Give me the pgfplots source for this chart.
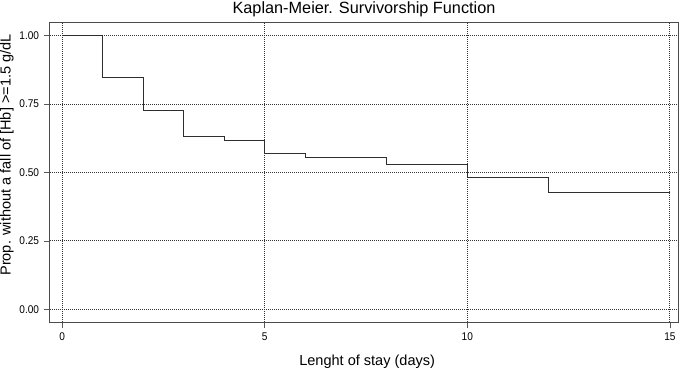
\documentclass[border=0pt]{standalone}
\usepackage{pgfplots}
\pgfplotsset{compat=1.18}
\usepackage{fontspec}
\setmainfont{Liberation Sans}
\newfontfamily\tickfont{Liberation Sans}[FakeStretch=0.9]
\begin{document}
\begin{tikzpicture}
\begin{axis}[
  scale only axis,
  width=471pt, height=224.25pt,
  xmin=-0.3, xmax=15.2, ymin=-0.046, ymax=1.046,
  xtick={0,5,10,15}, ytick={0,0.25,0.5,0.75,1},
  /pgf/number format/assume math mode=true,
  yticklabel style={/pgf/number format/fixed, /pgf/number format/fixed zerofill, /pgf/number format/precision=2, xshift=-3.5pt},
  xticklabel style={/pgf/number format/fixed, /pgf/number format/precision=0, yshift=-3.5pt},
  ticklabel style={font=\tickfont\fontsize{8.4pt}{9pt}\selectfont, inner sep=0pt},
  tick align=outside, major tick length=4.5pt,
  tick style={color=black!65, line width=0.6pt},
  xtick pos=bottom, ytick pos=left,
  axis line style={color=black!70, line width=0.75pt},
  grid=major,
  grid style={dash pattern=on 0.7pt off 0.8pt, color=black!80, line width=0.7pt},
  title={Kaplan-Meier. Survivorship Function},
  title style={font=\fontsize{12.2pt}{14pt}\selectfont, at={(axis description cs:0.5,1)}, anchor=base, yshift=1pt, inner sep=0pt},
  xlabel={Lenght of stay (days)},
  ylabel={Prop. without a fall of [Hb] >=1.5 g/dL},
  label style={font=\fontsize{10.9pt}{12pt}\selectfont},
  xlabel style={at={(axis description cs:0.505,0)}, anchor=north, yshift=-24.5pt, inner sep=0pt},
  ylabel style={at={(axis description cs:-0.0575,0.5585)}, anchor=south, inner sep=0pt},
]
\addplot[const plot, color=black!82, line width=0.75pt] coordinates {
(0,1.000) (1,0.846) (2,0.725) (3,0.632) (4,0.618) (5,0.569) (6,0.556) (8,0.529) (10,0.481) (12,0.428) (15,0.428)
};
\coordinate (bl) at (rel axis cs:0,0);
\coordinate (tr) at (rel axis cs:1,1);
\end{axis}
\pgfresetboundingbox
\path ([xshift=-37.5pt,yshift=-33.75pt]bl) rectangle ([xshift=3.75pt,yshift=17.25pt]tr);
\end{tikzpicture}
\end{document}
